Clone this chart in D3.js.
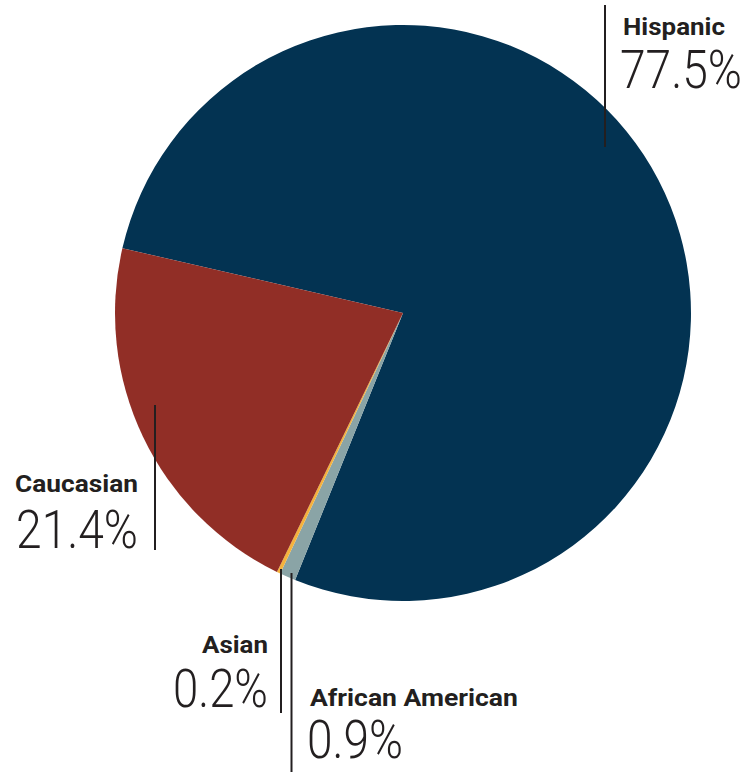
<!DOCTYPE html>
<html>
<head>
<meta charset="utf-8">
<script src="https://cdn.jsdelivr.net/npm/d3@7"></script>
<style>
  html, body { margin: 0; padding: 0; background: #fff; }
  svg { display: block; }
</style>
</head>
<body>
<svg id="chart" width="747" height="772"></svg>
<script>
// Ethnic breakdown shares (percent)
const categories = ["Hispanic", "African American", "Asian", "Caucasian"];
const values = [77.5, 0.9, 0.2, 21.4];
const colors = ["#033352", "#8aa4a6", "#f5b23c", "#912e26"];

const svg = d3.select("#chart");
const cx = 403, cy = 313, radius = 288;

const pie = d3.pie()
  .sort(null)
  .value(d => d.value)
  .startAngle(-77 * Math.PI / 180)
  .endAngle(283 * Math.PI / 180);

const data = categories.map((c, i) => ({ name: c, value: values[i], color: colors[i] }));
const arcs = pie(data);
const arc = d3.arc().innerRadius(0).outerRadius(radius);

const g = svg.append("g").attr("transform", `translate(${cx},${cy})`);
g.selectAll("path")
  .data(arcs)
  .join("path")
  .attr("d", arc)
  .attr("fill", d => d.data.color);

// Callout layout: leader line x and extent, text anchor and x, baselines, text widths
const callouts = {
  "Hispanic":         { lx: 605,   y1: 5,   y2: 147, anchor: "start", tx: 620, ny: 35,  vy: 88,  nw: 102, vw: 122 },
  "Caucasian":        { lx: 155,   y1: 405, y2: 550, anchor: "end",   tx: 138, ny: 492, vy: 548, nw: 123, vw: 122 },
  "Asian":            { lx: 281,   y1: 569, y2: 713, anchor: "end",   tx: 268, ny: 653, vy: 707, nw: 66,  vw: 95 },
  "African American": { lx: 291.5, y1: 573, y2: 772, anchor: "start", tx: 307, ny: 706, vy: 758, nw: 208, vw: 96 }
};

// Places a text at (x, y) and stretches it horizontally to the given width
function fitText(parent, str, x, y, anchor, width, size, weight) {
  const t = parent.append("g").append("text")
    .attr("text-anchor", anchor)
    .attr("font-family", "Roboto, sans-serif")
    .attr("font-weight", weight)
    .attr("font-size", size)
    .attr("fill", "#231f20")
    .text(str);
  const natural = t.node().getComputedTextLength() || width;
  t.attr("transform", `translate(${x},${y}) scale(${width / natural},1)`);
  return t;
}

const labels = svg.append("g");
arcs.forEach(a => {
  const c = callouts[a.data.name];
  const nx = c.anchor === "start" ? c.tx + 3 : c.tx;
  labels.append("line")
    .attr("x1", c.lx).attr("x2", c.lx)
    .attr("y1", c.y1).attr("y2", c.y2)
    .attr("stroke", "#231f20")
    .attr("stroke-width", 2);
  fitText(labels, a.data.name, nx, c.ny, c.anchor, c.nw, 24, 700);
  fitText(labels, d3.format(".1f")(a.data.value) + "%", c.tx, c.vy, c.anchor, c.vw, 53, 300);
});
</script>
</body>
</html>
